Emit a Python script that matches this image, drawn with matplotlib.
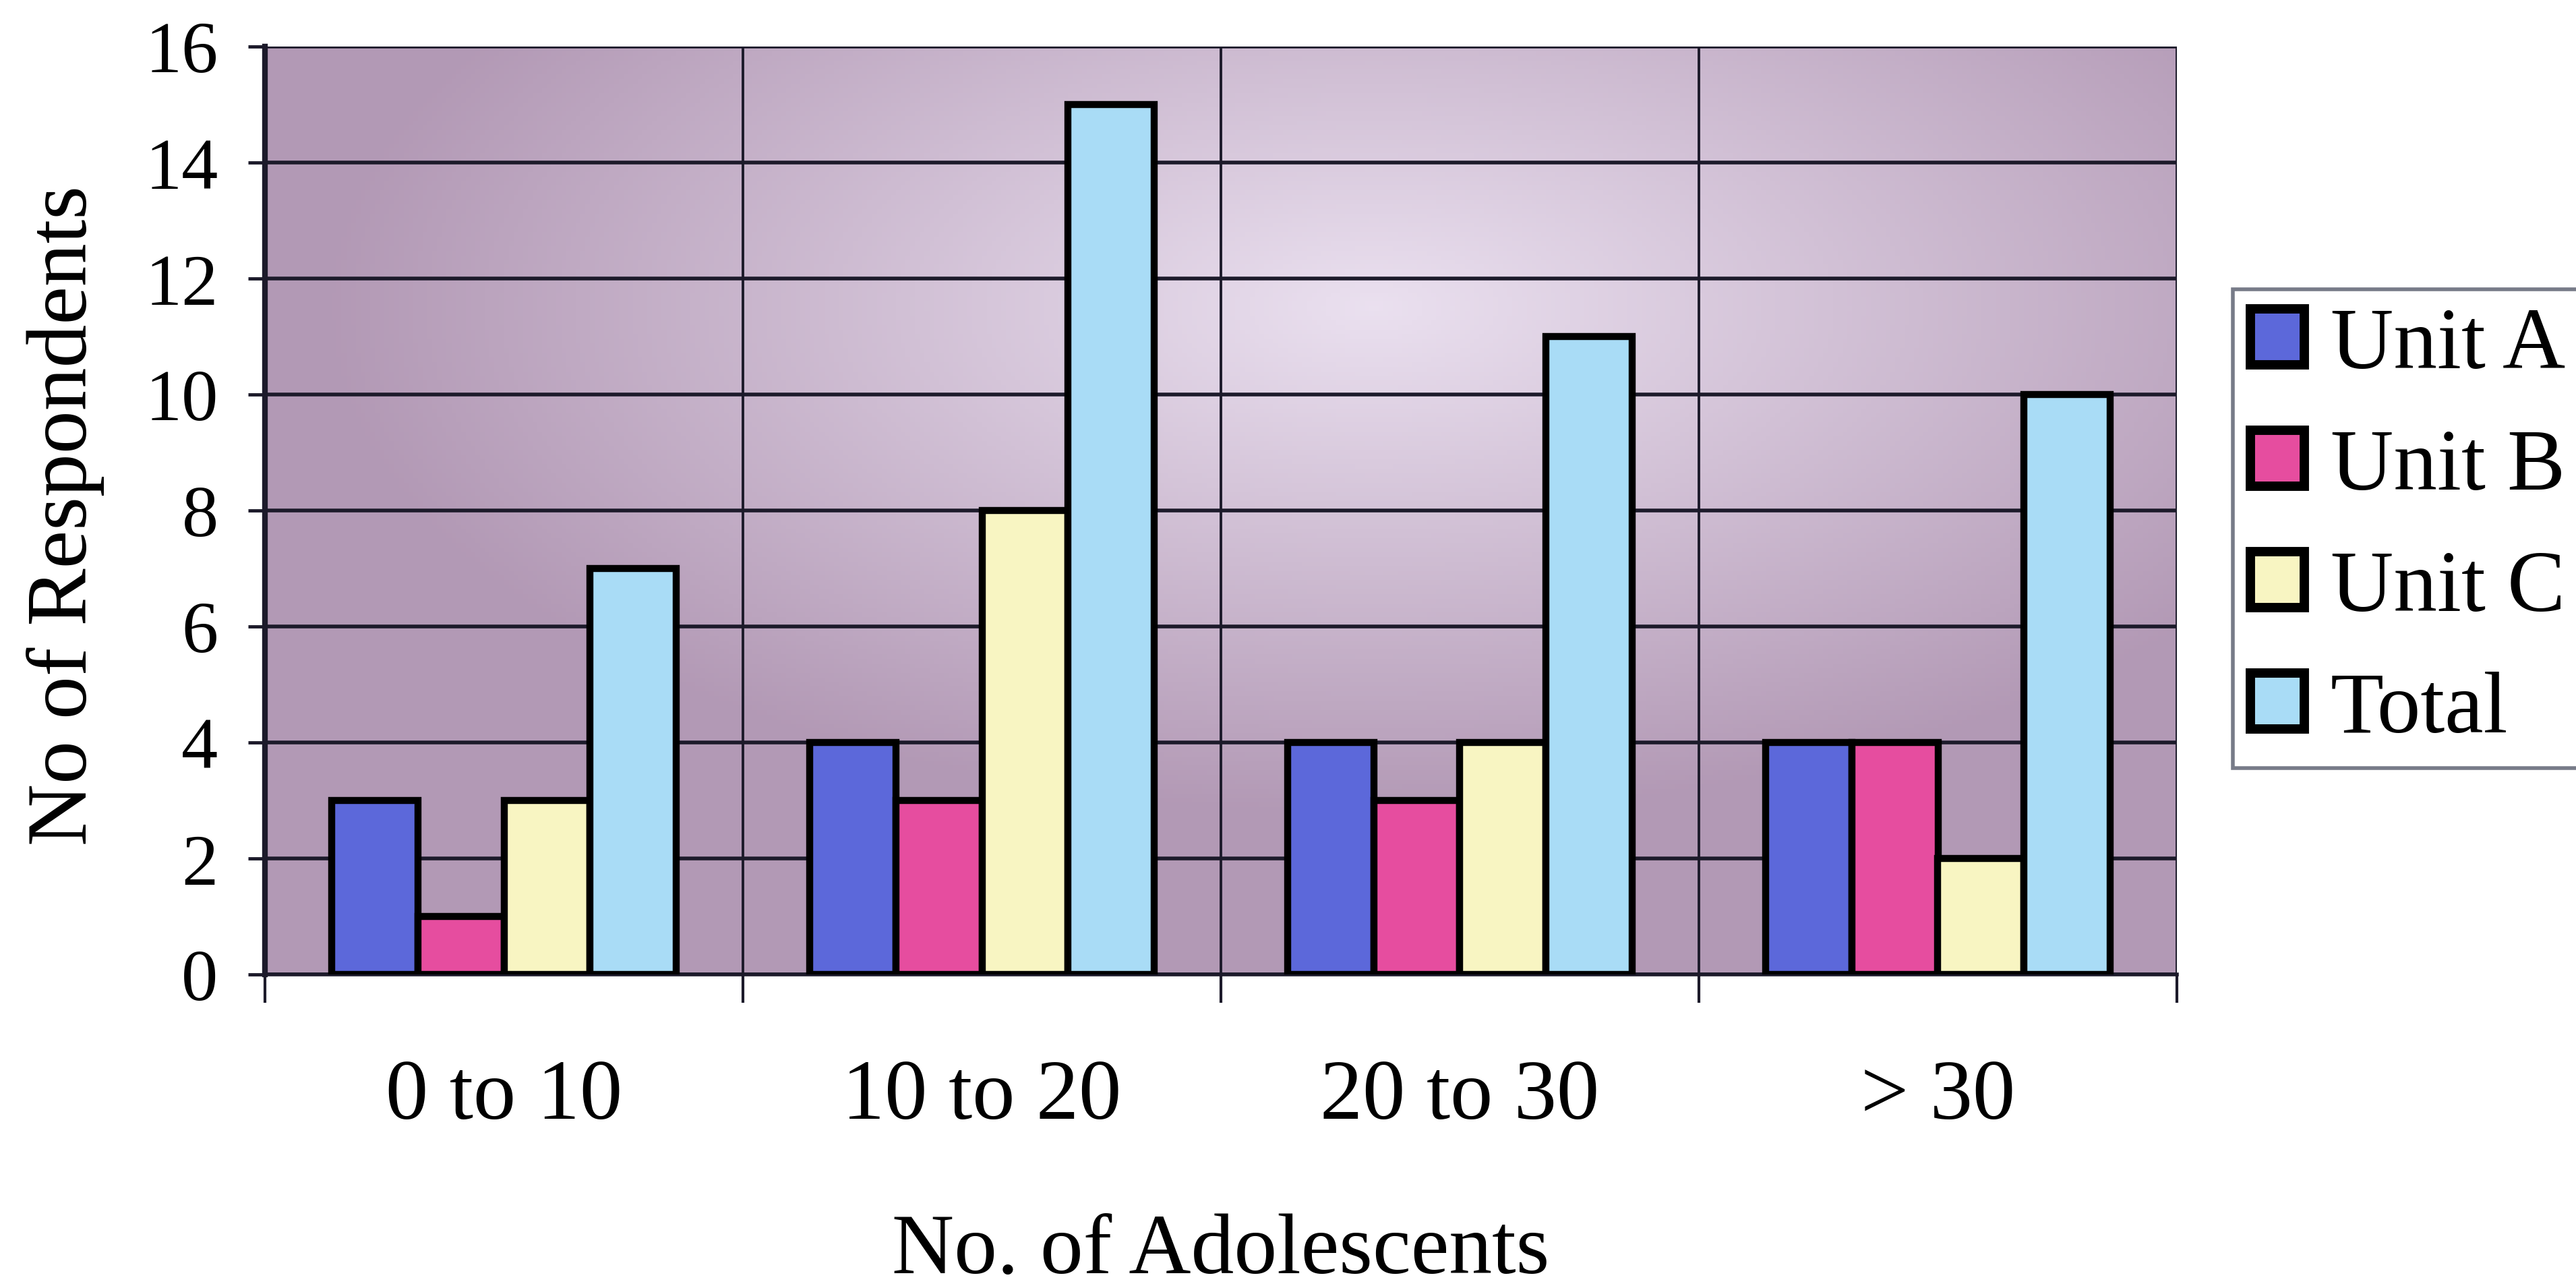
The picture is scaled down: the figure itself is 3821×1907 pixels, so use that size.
import numpy as np
import matplotlib
matplotlib.use("Agg")
import matplotlib.pyplot as plt
from matplotlib.patches import Patch

categories = ["0 to 10", "10 to 20", "20 to 30", "> 30"]
series_names = ["Unit A", "Unit B", "Unit C", "Total"]
unit_a = [3, 4, 4, 4]
unit_b = [1, 3, 3, 4]
unit_c = [3, 8, 4, 2]
total = [7, 15, 11, 10]
yticks = [0, 2, 4, 6, 8, 10, 12, 14, 16]

colors = ["#5c68da", "#e64d9f", "#f8f5c2", "#a9dcf6"]
values = [unit_a, unit_b, unit_c, total]

plt.rcParams['font.family'] = ['Liberation Serif', 'DejaVu Serif']

W, H = 3821, 1908
fig = plt.figure(figsize=(W / 100, H / 100), dpi=100)
fig.patch.set_facecolor("white")
left, right, top, bottom = 393, 3229, 70, 1446
ax = fig.add_axes([left / W, 1 - bottom / H, (right - left) / W, (bottom - top) / H])

# background gradient of the plot area
ny, nx = 200, 400
yy, xx = np.mgrid[0:1:ny*1j, 0:1:nx*1j]
d = np.sqrt(((xx - 0.58) / 0.55) ** 2 + ((yy - 0.72) / 0.55) ** 2)
t = np.clip(d, 0, 1)
light = np.array([0.92, 0.88, 0.94])
dark = np.array([0.70, 0.60, 0.71])
img = light[None, None, :] * (1 - t[..., None]) + dark[None, None, :] * t[..., None]
ax.imshow(img, extent=[0, 1, 0, 1], transform=ax.transAxes, origin="lower",
          aspect="auto", zorder=0)

x = np.arange(len(categories))
bw = 0.18
for i, (vals, c) in enumerate(zip(values, colors)):
    ax.bar(x + (i - 1.5) * bw, vals, width=bw, color=c, edgecolor="black",
           linewidth=7.5, zorder=3)

ax.set_xlim(-0.5, len(categories) - 0.5)
ax.set_ylim(0, 16)
ax.set_yticks(yticks)
ax.set_yticklabels([str(v) for v in yticks], fontsize=78)
ax.yaxis.grid(True, color="#1c1a2a", linewidth=4, zorder=1)

# category boundaries as major ticks (with gridlines), labels on minor ticks
ax.set_xticks(np.arange(-0.5, len(categories), 1.0))
ax.set_xticklabels([""] * (len(categories) + 1))
ax.xaxis.grid(True, color="#1c1a2a", linewidth=2.8, zorder=1)
ax.set_xticks(x, minor=True)
ax.set_xticklabels(categories, minor=True, fontsize=91)
ax.tick_params(axis="x", which="minor", length=0, pad=90)
ax.tick_params(axis="x", which="major", length=30, width=3, color="#1c1a2a", direction="out")
ax.tick_params(axis="y", length=18, width=3.5, color="#1c1a2a", direction="out", pad=32)

for g in ax.get_xgridlines() + ax.get_ygridlines():
    g.set_zorder(1)

for s in ["top", "right"]:
    ax.spines[s].set_visible(False)
ax.spines["left"].set_linewidth(6)
ax.spines["left"].set_color("#1c1a2a")
ax.spines["bottom"].set_linewidth(4)
ax.spines["bottom"].set_color("#1c1a2a")

fig.text(97 / W, 1 - 765 / H, "No of Respondents", fontsize=92, rotation=90,
         ha="center", va="center")
fig.text((left + right) / 2 / W, 1 - 1888 / H, "No. of Adolescents", fontsize=92,
         ha="center", va="baseline")

handles = [Patch(facecolor=c, edgecolor="black", linewidth=10) for c in colors]
leg = fig.legend(handles, series_names, loc="upper left",
                 bbox_to_anchor=(3312 / W, 1 - 430 / H),
                 fontsize=93, frameon=True, fancybox=False,
                 handlelength=0.62, handleheight=0.62, handletextpad=0.3,
                 labelspacing=0.48, borderpad=0.2, borderaxespad=0)
leg.get_frame().set_edgecolor("#555a6a")
leg.get_frame().set_linewidth(4)

fig.savefig("out.png", dpi=100)
